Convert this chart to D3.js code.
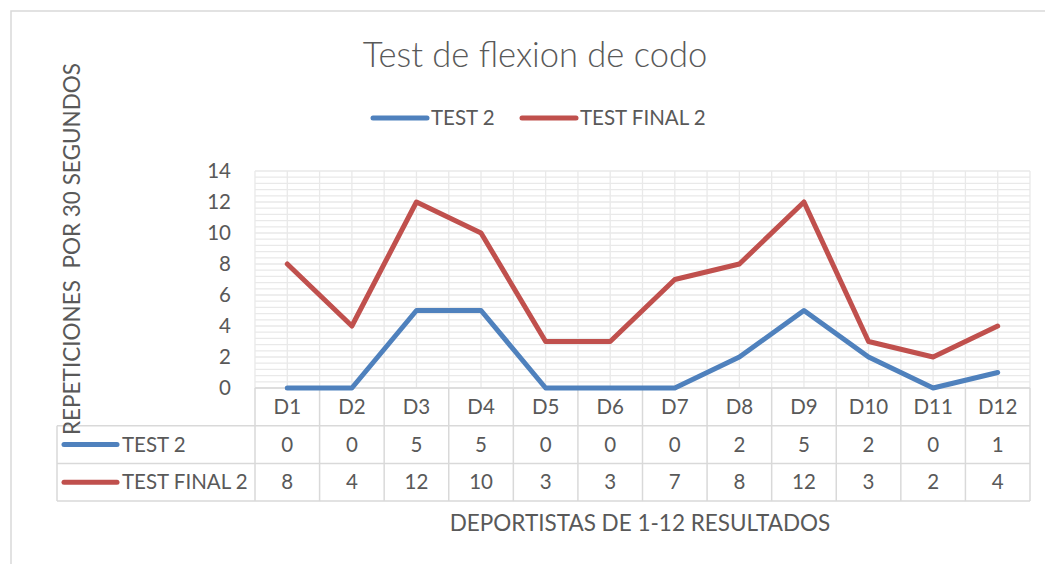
<!DOCTYPE html>
<html>
<head>
<meta charset="utf-8">
<script src="https://cdn.jsdelivr.net/npm/d3@7"></script>
<style>
  body { margin: 0; background: #fff; }
  text { font-family: Lato, "Open Sans", sans-serif; fill: #595959; }
</style>
</head>
<body>
<div id="chart"></div>
<script>
// Data
const categories = ["D1", "D2", "D3", "D4", "D5", "D6", "D7", "D8", "D9", "D10", "D11", "D12"];
const test2 = [0, 0, 5, 5, 0, 0, 0, 2, 5, 2, 0, 1];
const testFinal2 = [8, 4, 12, 10, 3, 3, 7, 8, 12, 3, 2, 4];
const yTicks = [0, 2, 4, 6, 8, 10, 12, 14];

const series = [
    { name: "TEST 2", values: test2, color: "#4f81bd" },
    { name: "TEST FINAL 2", values: testFinal2, color: "#c0504d" }
];

function createLineChart() {
    const width = 1045, height = 564;
    const fs = "20.5px";
    const axisFs = "22.5px";
    const svg = d3.select("#chart").append("svg")
        .attr("width", width)
        .attr("height", height);

    // outer chart frame
    svg.append("rect")
        .attr("x", 11).attr("y", 11)
        .attr("width", 1100).attr("height", 600)
        .attr("fill", "none")
        .attr("stroke", "#d9d9d9")
        .attr("stroke-width", 1.5);

    const plot = { left: 255, right: 1030, top: 171, bottom: 388 };

    const x = d3.scaleBand()
        .domain(categories)
        .range([plot.left, plot.right]);

    const y = d3.scaleLinear()
        .domain([0, 14])
        .range([plot.bottom, plot.top]);

    // minor horizontal gridlines
    const g = svg.append("g");
    g.selectAll(".hgrid")
        .data(d3.range(0, 14.01, 0.4))
        .enter().append("line")
        .attr("x1", plot.left).attr("x2", plot.right)
        .attr("y1", d => y(d)).attr("y2", d => y(d))
        .attr("stroke", "#e9e9e9")
        .attr("stroke-width", 1.3);

    // vertical gridlines at boundaries and centers
    const vx = [];
    categories.forEach(c => {
        vx.push(x(c));
        vx.push(x(c) + x.bandwidth() / 2);
    });
    vx.push(plot.right);
    g.selectAll(".vgrid")
        .data(vx)
        .enter().append("line")
        .attr("x1", d => d).attr("x2", d => d)
        .attr("y1", plot.top).attr("y2", plot.bottom)
        .attr("stroke", "#e9e9e9")
        .attr("stroke-width", 1.3);

    // y tick labels
    svg.selectAll(".ytick")
        .data(yTicks)
        .enter().append("text")
        .attr("x", 231)
        .attr("y", d => y(d))
        .attr("dy", "0.35em")
        .attr("text-anchor", "end")
        .style("font-size", fs)
        .text(d => d);

    // data table
    const rowH = 37.7;
    const tableTop = plot.bottom;
    const tableLeft = 57;
    const tableBottom = tableTop + rowH * 3;
    const tg = svg.append("g");
    const gridColor = "#d9d9d9";

    // horizontal table lines
    tg.append("line")
        .attr("x1", plot.left).attr("x2", plot.right)
        .attr("y1", tableTop).attr("y2", tableTop)
        .attr("stroke", gridColor).attr("stroke-width", 1.5);
    [1, 2, 3].forEach(i => {
        tg.append("line")
            .attr("x1", tableLeft).attr("x2", plot.right)
            .attr("y1", tableTop + rowH * i).attr("y2", tableTop + rowH * i)
            .attr("stroke", gridColor).attr("stroke-width", 1.5);
    });
    // vertical table lines
    const colX = categories.map(c => x(c)).concat([plot.right]);
    tg.selectAll(".vcol")
        .data(colX)
        .enter().append("line")
        .attr("x1", d => d).attr("x2", d => d)
        .attr("y1", tableTop).attr("y2", tableBottom)
        .attr("stroke", gridColor).attr("stroke-width", 1.5);
    tg.append("line")
        .attr("x1", tableLeft).attr("x2", tableLeft)
        .attr("y1", tableTop + rowH).attr("y2", tableBottom)
        .attr("stroke", gridColor).attr("stroke-width", 1.5);

    // category labels
    tg.selectAll(".cat")
        .data(categories)
        .enter().append("text")
        .attr("x", d => x(d) + x.bandwidth() / 2)
        .attr("y", tableTop + rowH / 2)
        .attr("dy", "0.35em")
        .attr("text-anchor", "middle")
        .style("font-size", fs)
        .text(d => d);

    // series rows
    series.forEach((s, i) => {
        const cy = tableTop + rowH * (i + 1) + rowH / 2;
        tg.append("line")
            .attr("x1", 64).attr("x2", 117)
            .attr("y1", cy).attr("y2", cy)
            .attr("stroke", s.color)
            .attr("stroke-width", 5)
            .attr("stroke-linecap", "round");
        tg.append("text")
            .attr("x", 122)
            .attr("y", cy)
            .attr("dy", "0.35em")
            .style("font-size", fs)
            .text(s.name);
        tg.selectAll(".val" + i)
            .data(s.values)
            .enter().append("text")
            .attr("x", (d, j) => x(categories[j]) + x.bandwidth() / 2)
            .attr("y", cy)
            .attr("dy", "0.35em")
            .attr("text-anchor", "middle")
            .style("font-size", fs)
            .text(d => d);
    });

    // lines
    const line = d3.line()
        .x((d, i) => x(categories[i]) + x.bandwidth() / 2)
        .y(d => y(d));

    svg.selectAll(".series")
        .data(series)
        .enter().append("path")
        .attr("d", d => line(d.values))
        .attr("fill", "none")
        .attr("stroke", d => d.color)
        .attr("stroke-width", 5)
        .attr("stroke-linejoin", "round")
        .attr("stroke-linecap", "round");

    // title
    svg.append("text")
        .attr("x", 535)
        .attr("y", 67)
        .attr("text-anchor", "middle")
        .style("font-size", "34.5px")
        .style("font-weight", 300)
        .text("Test de flexion de codo");

    // legend
    const legend = svg.append("g");
    const legendX = [373, 522];
    series.forEach((s, i) => {
        legend.append("line")
            .attr("x1", legendX[i]).attr("x2", legendX[i] + 54)
            .attr("y1", 118).attr("y2", 118)
            .attr("stroke", s.color)
            .attr("stroke-width", 5)
            .attr("stroke-linecap", "round");
        legend.append("text")
            .attr("x", legendX[i] + 58)
            .attr("y", 118)
            .attr("dy", "0.35em")
            .style("font-size", fs)
            .text(s.name);
    });

    // axis titles
    svg.append("text")
        .attr("transform", "translate(72, 249) rotate(-90)")
        .attr("text-anchor", "middle")
        .attr("dy", "0.35em")
        .style("font-size", axisFs)
        .text("REPETICIONES\u00a0\u00a0POR 30 SEGUNDOS");

    svg.append("text")
        .attr("x", 640)
        .attr("y", 523)
        .attr("dy", "0.35em")
        .attr("text-anchor", "middle")
        .style("font-size", axisFs)
        .text("DEPORTISTAS DE 1-12 RESULTADOS");
}

createLineChart();
</script>
</body>
</html>
